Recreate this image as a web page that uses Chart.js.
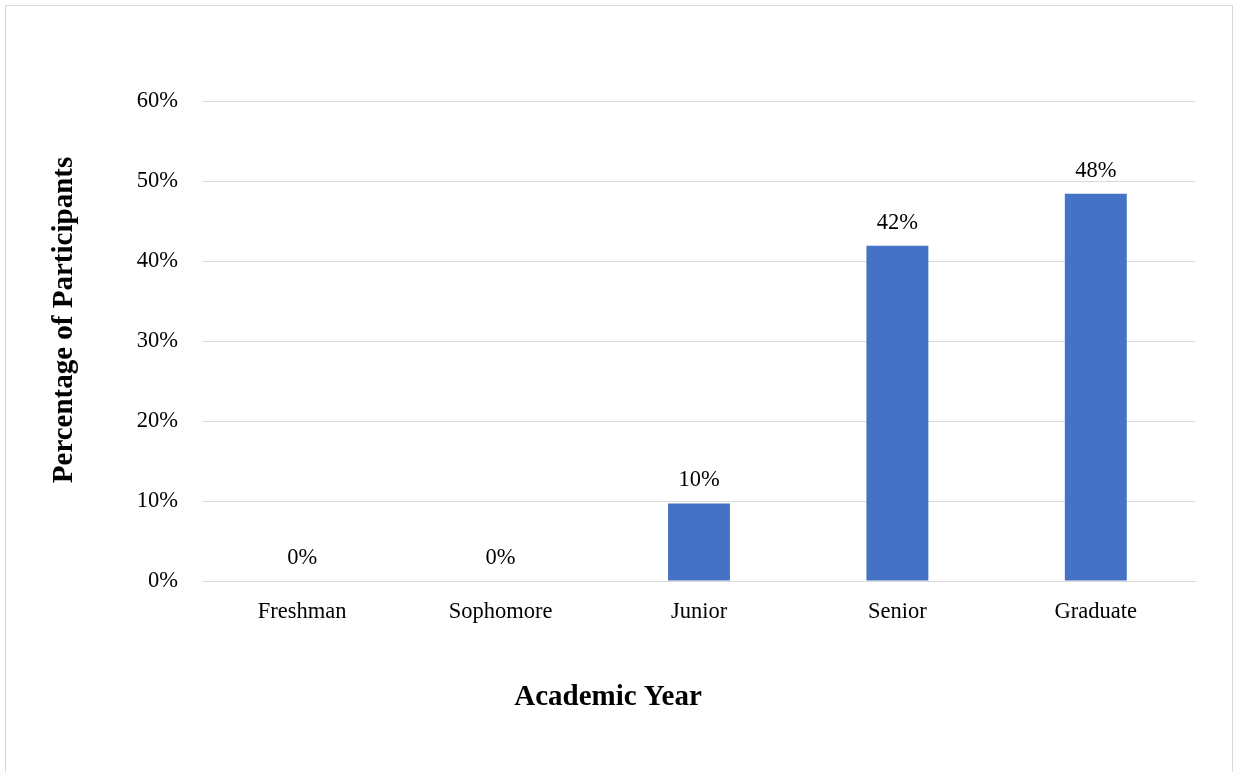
<!DOCTYPE html>
<html>
<head>
<meta charset="utf-8">
<script src="https://cdn.jsdelivr.net/npm/chart.js@4.4.1/dist/chart.umd.min.js"></script>
<style>
  html, body { margin: 0; padding: 0; background: #fff; overflow: hidden; }
  #frame { position: absolute; left: 5px; top: 5px; width: 1226px; height: 900px; border: 1px solid #d9d9d9; }
  #wrap { position: absolute; left: 0; top: 0; width: 1233px; height: 772px; }
</style>
</head>
<body>
<div id="frame"></div>
<div id="wrap"><canvas id="chart"></canvas></div>
<script>
const years = ["Freshman", "Sophomore", "Junior", "Senior", "Graduate"];
const share = [0, 0, 9.7, 41.9, 48.4];
const yTitle = "Percentage of Participants";
const xTitle = "Academic Year";

const FONT = "'Liberation Serif', 'Times New Roman', serif";

// value labels above bars
const barLabels = {
  id: "barLabels",
  afterDatasetsDraw(chart) {
    const ctx = chart.ctx;
    const meta = chart.getDatasetMeta(0);
    ctx.save();
    ctx.font = "22.5px " + FONT;
    ctx.fillStyle = "#000";
    ctx.textAlign = "center";
    ctx.textBaseline = "alphabetic";
    meta.data.forEach((bar, i) => {
      ctx.fillText(Math.round(share[i]) + "%", bar.x, bar.y - 17);
    });
    ctx.restore();
  }
};

// axis titles, placed like the spreadsheet does (centred on the whole chart)
const axisTitles = {
  id: "axisTitles",
  afterDraw(chart) {
    const ctx = chart.ctx;
    ctx.save();
    ctx.font = "bold 29px " + FONT;
    ctx.fillStyle = "#000";
    ctx.textAlign = "center";
    ctx.textBaseline = "alphabetic";
    ctx.fillText(xTitle, 608, 705);
    ctx.translate(72, 320);
    ctx.rotate(-Math.PI / 2);
    ctx.fillText(yTitle, 0, 0);
    ctx.restore();
  }
};

new Chart(document.getElementById("chart"), {
  type: "bar",
  data: {
    labels: years,
    datasets: [{
      data: share,
      backgroundColor: "#4472c4",
      borderWidth: 0,
      barPercentage: 0.312,
      categoryPercentage: 1
    }]
  },
  options: {
    responsive: true,
    maintainAspectRatio: false,
    animation: false,
    layout: { padding: { left: 0, right: 38, top: 101, bottom: 0 } },
    plugins: { legend: { display: false }, tooltip: { enabled: false } },
    scales: {
      x: {
        grid: { display: false },
        border: { display: true, color: "#d9d9d9", width: 1 },
        ticks: { color: "#000", font: { family: FONT, size: 22.5 }, padding: 10, maxRotation: 0 },
        afterFit(scale) { scale.height = 191; }
      },
      y: {
        min: 0,
        max: 60,
        grid: { color: "#d9d9d9", lineWidth: 1, drawTicks: false },
        border: { display: false },
        ticks: {
          stepSize: 10,
          color: "#000",
          padding: 25,
          font: { family: FONT, size: 22.5 },
          callback: v => v + "%"
        },
        afterFit(scale) { scale.width = 203; }
      }
    }
  },
  plugins: [barLabels, axisTitles]
});
</script>
</body>
</html>
